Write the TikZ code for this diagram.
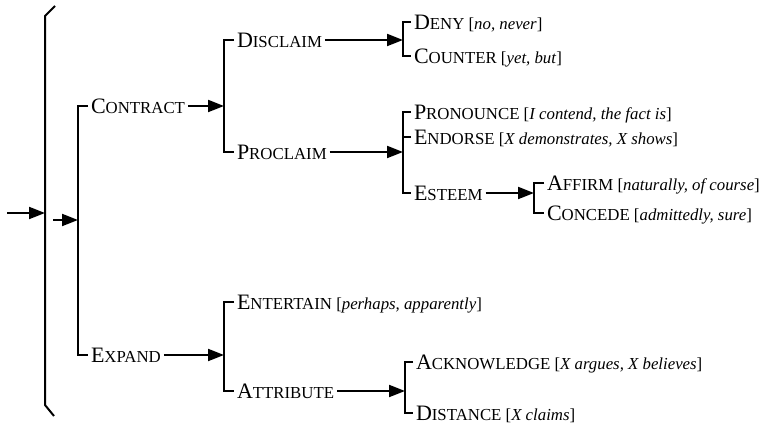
\documentclass[tikz,border=0pt]{standalone}
\usepackage{fontspec}
\setmainfont{Liberation Serif}[ItalicFont={Liberation Serif Italic}]
\usetikzlibrary{arrows.meta}
\newcommand{\capword}[2]{{\fontsize{11}{12}\selectfont #1}#2}

\begin{document}
\begin{tikzpicture}
[x=0.5pt, y=-0.5pt, line width=1pt,
 every node/.style={anchor=west, inner xsep=1pt, inner ysep=0pt, text height=7.3pt, text depth=0pt, font=\fontsize{8.4}{10}\selectfont},
 arr/.style={-{Triangle[length=8pt, width=6pt]}}]
\useasboundingbox (0,0) rectangle (765,426);
\coordinate (start) at (7,213);
\coordinate (brace) at (45,213);
\coordinate (enter) at (53,220);
\coordinate (b0) at (78,220);
\coordinate (b1) at (224,106);
\coordinate (b2) at (403,40);
\coordinate (b3) at (403,152);
\coordinate (b4) at (534,193);
\coordinate (b5) at (224,355);
\coordinate (b6) at (405,391);
\node (contract) at (88,106) {\capword{C}{ONTRACT}};
\node (expand) at (88,355) {\capword{E}{XPAND}};
\node (disclaim) at (234,40) {\capword{D}{ISCLAIM}};
\node (proclaim) at (234,152) {\capword{P}{ROCLAIM}};
\node (deny) at (411,22) {\capword{D}{ENY} [\textit{no, never}]};
\node (counter) at (411,56) {\capword{C}{OUNTER} [\textit{yet, but}]};
\node (pronounce) at (411,112) {\capword{P}{RONOUNCE} [\textit{I contend, the fact is}]};
\node (endorse) at (411,137) {\capword{E}{NDORSE} [\textit{X demonstrates, X shows}]};
\node (esteem) at (411,193) {\capword{E}{STEEM}};
\node (affirm) at (544,183) {\capword{A}{FFIRM} [\textit{naturally, of course}]};
\node (concede) at (544,213) {\capword{C}{ONCEDE} [\textit{admittedly, sure}]};
\node (entertain) at (234,302) {\capword{E}{NTERTAIN} [\textit{perhaps, apparently}]};
\node (attribute) at (234,391) {\capword{A}{TTRIBUTE}};
\node (acknowledge) at (413,362) {\capword{A}{CKNOWLEDGE} [\textit{X argues, X believes}]};
\node (distance) at (413,413) {\capword{D}{ISTANCE} [\textit{X claims}]};
% outer brace
\draw (55,6) -- (45,16) -- (45,405) -- (54,416);
\draw [arr] (start) -- (brace);
\draw [arr] (enter) -- (b0);
% brackets
\draw (contract.west) -| (b0) |- (expand.west);
\draw (disclaim.west) -| (b1) |- (proclaim.west);
\draw (deny.west) -| (b2) |- (counter.west);
\draw (pronounce.west) -| (b3) |- (esteem.west);
\draw (endorse.west) -- (endorse.west -| b3);
\draw (affirm.west) -| (b4) |- (concede.west);
\draw (entertain.west) -| (b5) |- (attribute.west);
\draw (acknowledge.west) -| (b6) |- (distance.west);
% arrows
\draw [arr] (contract) -- (b1);
\draw [arr] (expand) -- (b5);
\draw [arr] (disclaim) -- (b2);
\draw [arr] (proclaim) -- (b3);
\draw [arr] (esteem) -- (b4);
\draw [arr] (attribute) -- (b6);
\end{tikzpicture}
\end{document}
